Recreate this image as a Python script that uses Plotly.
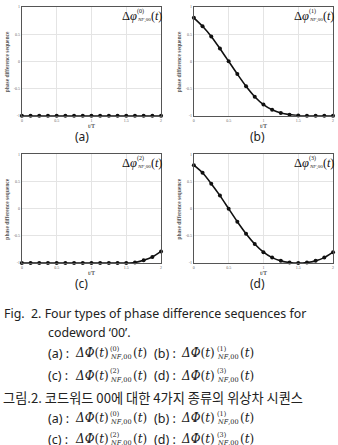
import plotly.graph_objects as go

W, H = 338, 445

t = [0, 0.125, 0.25, 0.375, 0.5, 0.625, 0.75, 0.875, 1.0, 1.125, 1.25, 1.375, 1.5, 1.625, 1.75, 1.875, 2.0]
seq0 = [-1.0] * 17
seq1 = [0.80, 0.645, 0.458, 0.235, 0.0, -0.235, -0.458, -0.65, -0.795, -0.89, -0.95, -0.98, -0.995, -1.0, -1.0, -1.0, -1.0]
seq2 = [-1.0, -1.0, -1.0, -1.0, -1.0, -1.0, -1.0, -1.0, -1.0, -1.0, -1.0, -1.0, -1.0, -0.99, -0.95, -0.89, -0.787]
seq3 = [0.80, 0.66, 0.46, 0.24, 0.0, -0.24, -0.46, -0.65, -0.80, -0.90, -0.96, -0.99, -1.0, -0.99, -0.96, -0.90, -0.80]
series = [seq0, seq1, seq2, seq3]
panel_letters = ["(a)", "(b)", "(c)", "(d)"]
xticks = [0, 0.5, 1, 1.5, 2]
xticktext = ["0", "0.5", "1", "1.5", "2"]
yticks = [-1, -0.5, 0, 0.5, 1]
yticktext = ["-1", "-0.5", "0", "0.5", "1"]

# panel boxes in pixels: left, right, top, bottom
boxes = [(21, 161, 4, 114), (194, 334, 4, 114), (21, 161, 153, 263), (194, 334, 153, 263)]


def px(x):
    return x / W


def py(y):
    return 1 - y / H


fig = go.Figure()
annotations = []
SERIF = "Liberation Serif"
MSERIF = "DejaVu Serif"
SANS = "Noto Sans"
TXT = "#222222"


def put(x, y, s, size, family, color=TXT, xanchor="left", angle=0):
    annotations.append(dict(x=px(x), y=py(y), xref="paper", yref="paper", text=s, showarrow=False,
                            textangle=angle, font=dict(family=family, size=size, color=color),
                            xanchor=xanchor, yanchor="middle"))


for i, (ys, (l, r, tp, bt)) in enumerate(zip(series, boxes)):
    n = i + 1
    xa = "xaxis" if n == 1 else f"xaxis{n}"
    ya = "yaxis" if n == 1 else f"yaxis{n}"
    fig.add_trace(go.Scatter(
        x=t, y=ys, mode="lines+markers",
        line=dict(color="#111111", width=1.6, shape="spline", smoothing=0.6),
        marker=dict(color="#111111", size=4),
        cliponaxis=False, showlegend=False,
        xaxis="x" if n == 1 else f"x{n}", yaxis="y" if n == 1 else f"y{n}",
    ))
    common = dict(showgrid=True, gridcolor="#e4e4e4", gridwidth=1, zeroline=False,
                  showline=True, linecolor="#555555", linewidth=1, mirror=True,
                  ticks="", tickfont=dict(size=4, color="#666666", family=SERIF), fixedrange=True)
    fig.update_layout(**{
        xa: dict(domain=[px(l), px(r)], range=[0, 2], tickvals=xticks, ticktext=xticktext,
                 anchor="y" if n == 1 else f"y{n}", **common),
        ya: dict(domain=[py(bt), py(tp)], range=[-1, 1], tickvals=yticks, ticktext=yticktext,
                 anchor="x" if n == 1 else f"x{n}", **common),
    })
    put(l - 15, (tp + bt) / 2, "<b>phase difference sequence</b>", 5.5, SERIF, "#555555", "center", -90)
    put((l + r) / 2, bt + 10, "<b>t/T</b>", 5.5, SERIF, "#555555", "center")
    put((l + r) / 2 - 10 if n % 2 else (l + r) / 2 - 6, bt + 21, panel_letters[i], 12, SANS, TXT, "center")
    # in-plot label  Δφ^{(n)}_{NF,00}(t)
    bx = r - 41
    cy = tp + 9
    put(bx, cy, "Δ<i>φ</i>", 12.5, SERIF, "#111111")
    put(bx + 15, cy - 4.5, f"({i})", 6, SERIF, "#111111")
    put(bx + 14.5, cy + 4, "<i>NF</i>,00", 5, SERIF, "#111111")
    put(bx + 29, cy, "(<i>t</i>)", 12, SERIF, "#111111")


def formula(x, y, letter, n):
    put(x, y, f"({letter}) :", 12.5, SANS)
    put(x + 27, y, "<i>ΔΦ</i>(<i>t</i>)", 12, MSERIF)
    put(x + 63, y - 4.5, f"({n})", 6.5, MSERIF)
    put(x + 63, y + 4, "<i>NF</i>,00", 6.5, MSERIF)
    put(x + 86, y, "(<i>t</i>)", 12, MSERIF)


put(1, 314, "Fig.  2. Four types of phase difference sequences for", 12.4, SANS)
put(45, 333, "codeword ‘00’.", 12.4, SANS)
formula(45, 354, "a", 0)
formula(152, 354, "b", 1)
formula(45, 377, "c", 2)
formula(152, 377, "d", 3)
put(0, 399, "그림.2. 코드워드 00에 대한 4가지 종류의 위상차 시퀀스", 13.2, "Noto Sans CJK KR")
formula(45, 420, "a", 0)
formula(152, 420, "b", 1)
formula(45, 441, "c", 2)
formula(152, 441, "d", 3)

fig.update_layout(width=W, height=H, margin=dict(l=0, r=0, t=0, b=0),
                  paper_bgcolor="white", plot_bgcolor="white",
                  annotations=annotations, showlegend=False)

fig.write_html("out.html", config={"displayModeBar": False})
